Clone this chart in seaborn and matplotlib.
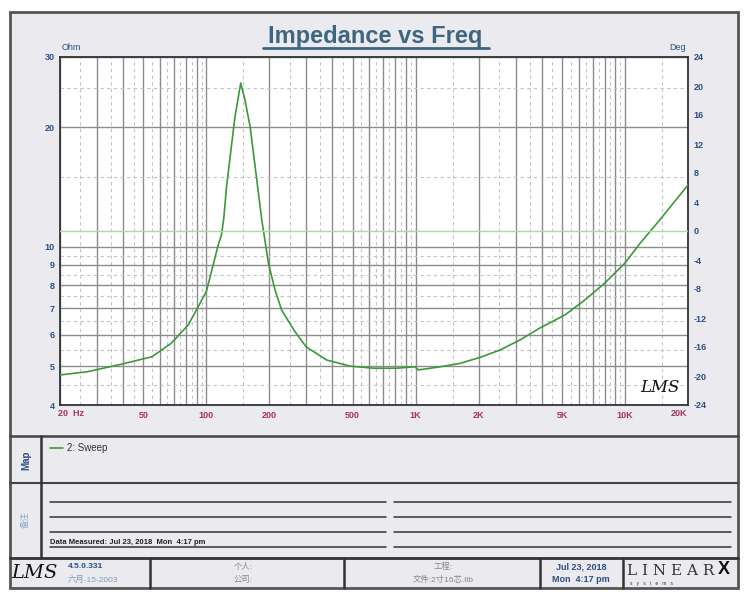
import numpy as np
import pandas as pd
import matplotlib
matplotlib.use('Agg')
import matplotlib.pyplot as plt
import seaborn as sns
from matplotlib.patches import Rectangle

# --- data ---
freq_hz = [20, 27, 39, 55, 68, 82, 100, 114, 118, 121, 125, 137, 146, 153, 162,
           184, 198, 213, 229, 265, 300, 376, 486, 628, 811, 993, 1030, 1307,
           1630, 2030, 2530, 3150, 3930, 5170, 6440, 8020, 10000, 11800, 14700, 20000]
impedance_ohm = [4.76, 4.85, 5.06, 5.29, 5.72, 6.36, 7.71, 10.1, 10.7, 11.7, 14.2, 21.2, 25.8, 23.4, 20.0,
                 11.7, 9.09, 7.78, 6.93, 6.12, 5.6, 5.19, 5.01, 4.95, 4.95, 4.99, 4.90, 4.99,
                 5.09, 5.27, 5.50, 5.83, 6.25, 6.74, 7.35, 8.11, 9.1, 10.2, 11.7, 14.3]
phase_freq = [20, 20000]
phase_deg = [0, 0]

x_major = [20, 30, 40, 50, 60, 70, 80, 90, 100, 200, 300, 400, 500, 600, 700, 800, 900,
           1000, 2000, 3000, 4000, 5000, 6000, 7000, 8000, 9000, 10000, 20000]
x_minor = [25, 35, 45, 55, 65, 75, 85, 95, 150, 250, 350, 450, 550, 650, 750, 850, 950,
           1500, 2500, 3500, 4500, 5500, 6500, 7500, 8500, 9500, 15000]
x_labels = {20: '', 50: '50', 100: '100', 200: '200', 500: '500', 1000: '1K',
            2000: '2K', 5000: '5K', 10000: '10K', 20000: ''}
y_major = [4, 5, 6, 7, 8, 9, 10, 20, 30]
y_minor = [4.5, 5.5, 6.5, 7.5, 8.5, 9.5, 15, 25]
deg_ticks = list(range(-24, 25, 4))

sns.set_style('white')
plt.rcParams['font.family'] = ['Liberation Sans', 'Noto Sans CJK SC', 'DejaVu Sans']

W, H = 750, 600
fig = plt.figure(figsize=(7.5, 6), dpi=100)
fig.patch.set_facecolor('white')

# background / frame in pixel coordinates
bg = fig.add_axes([0, 0, 1, 1], zorder=0)
bg.set_xlim(0, W)
bg.set_ylim(H, 0)
bg.axis('off')

frame_col = '#555555'
panel_col = '#ebeaee'
bg.add_patch(Rectangle((10, 12), 728, 576, facecolor=panel_col, edgecolor=frame_col, lw=2))
bg.plot([10, 738], [436, 436], color='#444444', lw=1.8)
bg.plot([10, 738], [483, 483], color='#444444', lw=1.5)
bg.plot([10, 738], [558, 558], color='#333333', lw=2)
bg.plot([41, 41], [436, 558], color='#333333', lw=1.8)
for xv in [150, 344, 540, 623]:
    bg.plot([xv, xv], [558, 588], color='#333333', lw=1.8)

blue = '#2b4f86'
title_col = '#3e6680'
bg.text(375, 36, 'Impedance vs Freq', ha='center', va='center', fontsize=17,
        fontweight='bold', color=title_col)
bg.plot([263, 489], [48, 48], color=title_col, lw=2)
bg.text(62, 47, 'Ohm', ha='left', va='center', fontsize=6.5, color=blue)
bg.text(686, 47, 'Deg', ha='right', va='center', fontsize=6.5, color=blue)
bg.text(58, 413, '20  Hz', ha='left', va='center', fontsize=6.5, fontweight='bold', color='#a8325e')
bg.text(679, 413, '20K', ha='center', va='center', fontsize=6.5, fontweight='bold', color='#a8325e')

# map section
bg.text(26, 460, 'Map', rotation=90, ha='center', va='center', fontsize=7,
        fontweight='bold', color=blue)
bg.plot([50, 63], [448, 448], color='#3a9a3a', lw=1.2)
bg.text(67, 448, '2: Sweep', ha='left', va='center', fontsize=7, color='#333333')

# notes section
bg.text(26, 520, '备注', rotation=90, ha='center', va='center', fontsize=6, color='#8aa8c8')
for yv in [502, 517, 532, 547]:
    bg.plot([50, 386], [yv, yv], color='#333333', lw=1.1)
    bg.plot([394, 731], [yv, yv], color='#333333', lw=1.1)
bg.text(50, 543, 'Data Measured: Jul 23, 2018  Mon  4:17 pm', ha='left', va='center',
        fontsize=5.5, fontweight='bold', color='#222222')

# footer
bg.text(34, 573, 'LMS', ha='center', va='center', fontsize=14, fontstyle='italic',
        family='DejaVu Serif', color='#111111')
bg.text(68, 567, '4.5.0.331', ha='left', va='center', fontsize=6, fontweight='bold', color=blue)
bg.text(68, 580, '六月-15-2003', ha='left', va='center', fontsize=6, color='#7f9cc0')
bg.text(234, 567, '个人:', ha='left', va='center', fontsize=6, color='#888888')
bg.text(234, 580, '公司:', ha='left', va='center', fontsize=6, color='#888888')
bg.text(443, 567, '工程:', ha='center', va='center', fontsize=6, color='#888888')
bg.text(443, 580, '文件:2寸16芯.llb', ha='center', va='center', fontsize=6, color='#888888')
bg.text(581, 567, 'Jul 23, 2018', ha='center', va='center', fontsize=6.5, fontweight='bold', color=blue)
bg.text(581, 580, 'Mon  4:17 pm', ha='center', va='center', fontsize=6.5, fontweight='bold', color=blue)
bg.text(627, 571, 'L I N E A R', ha='left', va='center', fontsize=11, family='DejaVu Serif',
        color='#333333')
bg.text(718, 570, 'X', ha='left', va='center', fontsize=13, fontweight='bold', color='#111111')
bg.text(630, 583, 's   y   s   t   e   m   s', ha='left', va='center', fontsize=3.5, color='#333333')

# main chart
ax = fig.add_axes([60 / W, 1 - 405 / H, 628 / W, 348 / H], zorder=2)
ax.set_facecolor('white')
ax.set_xscale('log')
ax.set_yscale('log')
ax.set_xlim(20, 20000)
ax.set_ylim(4, 30)

df = pd.DataFrame({'freq': freq_hz, 'ohm': impedance_ohm})
sns.lineplot(data=df, x='freq', y='ohm', ax=ax, color='#3a9a3a', lw=1.2,
             sort=False, estimator=None, zorder=5)

ax.set_xticks(x_major)
ax.set_xticklabels([x_labels.get(v, '') for v in x_major])
ax.set_xticks(x_minor, minor=True)
ax.set_yticks(y_major)
ax.set_yticklabels([str(v) for v in y_major])
ax.set_yticks(y_minor, minor=True)
ax.xaxis.set_minor_formatter(matplotlib.ticker.NullFormatter())
ax.yaxis.set_minor_formatter(matplotlib.ticker.NullFormatter())
ax.grid(which='major', color='#8c8c8c', lw=1.0, ls='-')
ax.grid(which='minor', color='#c4c4c4', lw=0.8, ls=(0, (3, 3)))
ax.tick_params(which='both', length=0)
ax.tick_params(axis='x', labelsize=6.5, labelcolor='#a8325e', pad=4)
ax.tick_params(axis='y', labelsize=6.5, labelcolor=blue, pad=4)
for lab in ax.get_xticklabels() + ax.get_yticklabels():
    lab.set_fontweight('bold')
ax.set_xlabel('')
ax.set_ylabel('')
for sp in ax.spines.values():
    sp.set_color('#333333')
    sp.set_linewidth(1.3)

ax2 = ax.twinx()
ax2.set_ylim(-24, 24)
ax2.set_yticks(deg_ticks)
ax2.set_yticklabels([str(v) for v in deg_ticks])
ax2.plot(phase_freq, phase_deg, color='#a6daa6', lw=1.0, zorder=4)
ax2.tick_params(which='both', length=0, labelsize=6.5, labelcolor=blue, pad=4)
for lab in ax2.get_yticklabels():
    lab.set_fontweight('bold')
ax2.grid(False)
for sp in ax2.spines.values():
    sp.set_visible(False)

ax.text(0.955, 0.05, 'LMS', transform=ax.transAxes, ha='center', va='center',
        fontsize=12, fontstyle='italic', family='DejaVu Serif', color='#111111', zorder=6)

fig.savefig('out.png', dpi=100)
